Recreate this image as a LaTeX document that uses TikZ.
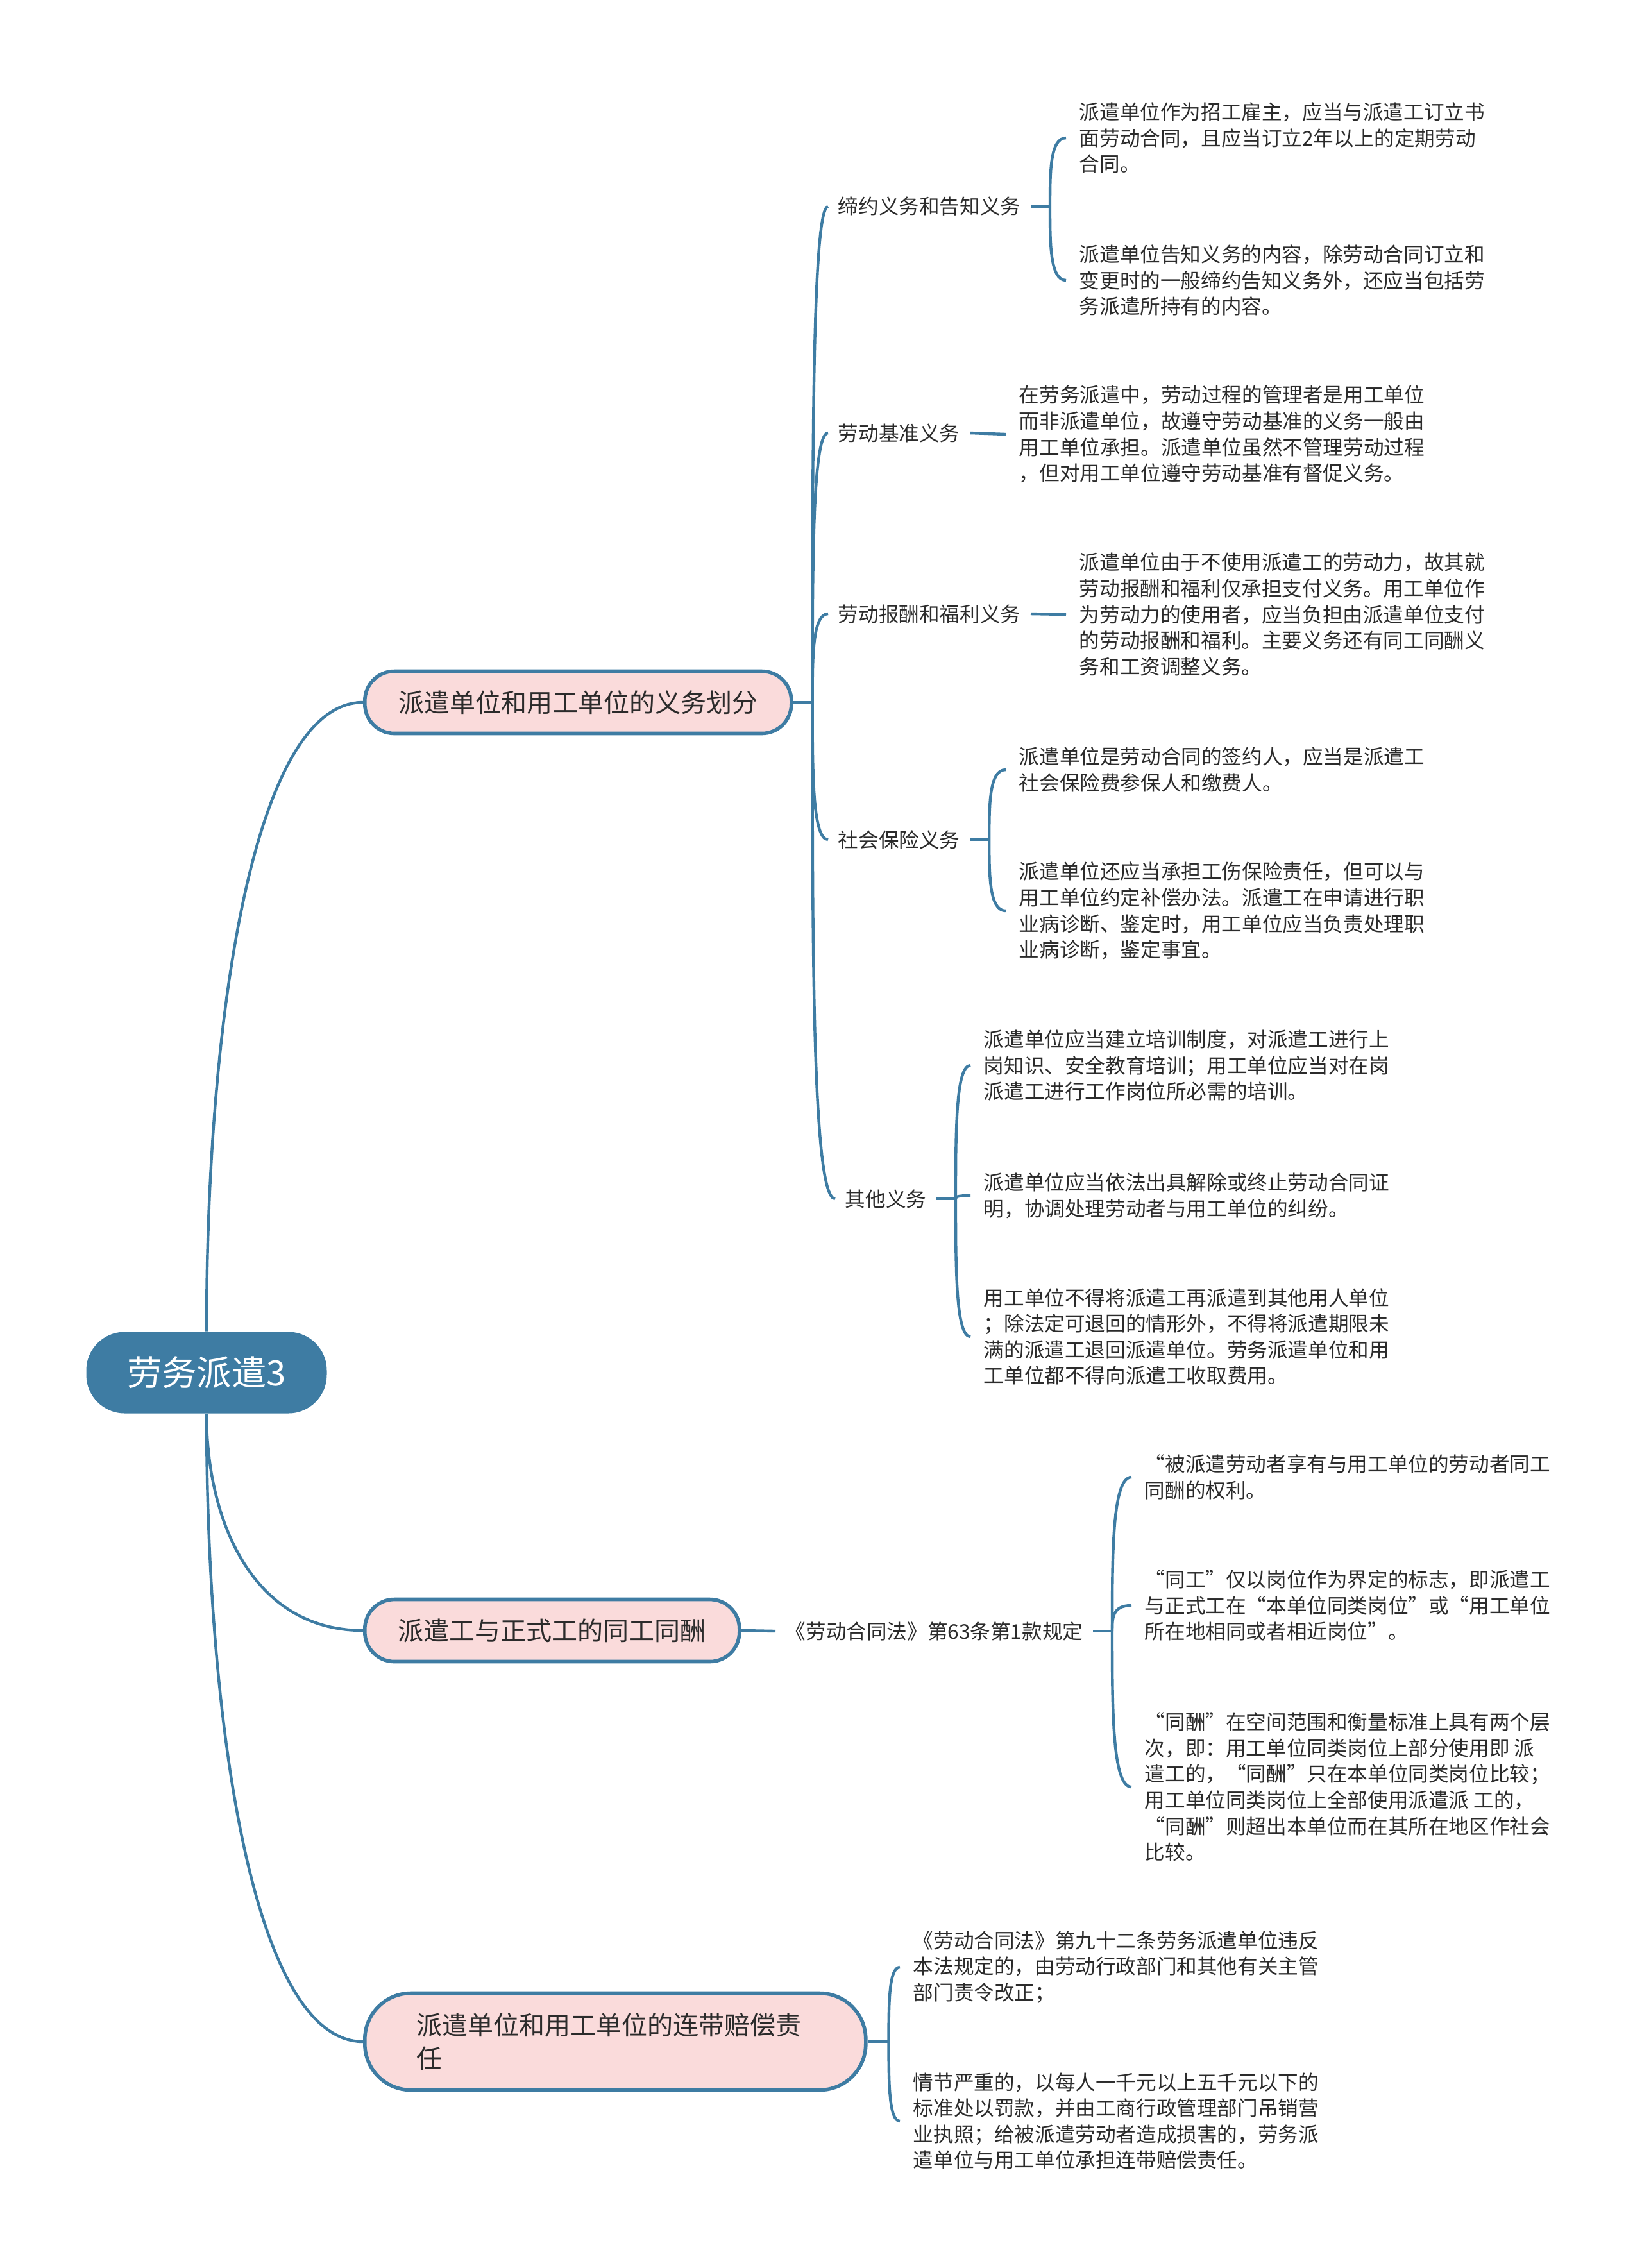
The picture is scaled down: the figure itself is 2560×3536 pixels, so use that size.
\documentclass[tikz,border=0pt]{standalone}
\usepackage{fontspec}
\setmainfont{Noto Sans CJK SC}
\usetikzlibrary{calc}
\definecolor{mmblue}{HTML}{3E7CA3}
\definecolor{mmpink}{HTML}{FADBDB}
\definecolor{mmtext}{HTML}{2B2B2B}
\begin{document}
\begin{tikzpicture}[x=0.25pt,y=-0.25pt,
  link/.style={draw=mmblue,line width=1.1pt},
  sweep/.style={to path={let \p1=(\tikztostart),\p2=(\tikztotarget) in
    .. controls (\x1,{0.5*(\y1+\y2)}) and ({\x1+0.3*(\x2-\x1)},\y2) .. (\tikztotarget)}},
  brace/.style={to path={let \p1=(\tikztostart),\p2=(\tikztotarget) in
    .. controls (\x1,{0.5*(\y1+\y2)}) and (\x1,\y2) .. (\tikztotarget)}},
  rootbox/.style={rectangle,rounded corners=15pt,fill=mmblue,text=white,font=\fontsize{13.6}{16}\selectfont,minimum width=93.75pt,minimum height=31.75pt,inner sep=0pt},
  topicbox/.style={rectangle,rounded corners=11.5pt,draw=mmblue,line width=1.4pt,fill=mmpink,text=mmtext,font=\fontsize{10}{13}\selectfont,anchor=west,inner xsep=13pt,minimum height=24.25pt},
  subbox/.style={anchor=west,inner xsep=3.75pt,inner ysep=1pt,text=mmtext,font=\fontsize{7.9}{10.15}\selectfont},
  leafbox/.style={anchor=west,align=left,inner xsep=5pt,inner ysep=1pt,text=mmtext,font=\fontsize{7.9}{10.15}\selectfont}]
  \useasboundingbox (0,0) rectangle (2560,3536);

  \node[rootbox] (root) at (322,2140) {劳务派遣3};
  \node[topicbox,minimum width=166.25pt] (duty) at (566,1095) {派遣单位和用工单位的义务划分};
  \node[topicbox,minimum width=146pt] (pay) at (566,2542) {派遣工与正式工的同工同酬};
  \node[topicbox,minimum width=195.25pt,minimum height=37.75pt,rounded corners=18pt,text width=155pt,align=left] (liab) at (566,3183) {派遣单位和用工单位的连带赔偿责\\任};

  \node[subbox] (sign) at (1291,322) {缔约义务和告知义务};
  \node[subbox] (std) at (1291,675) {劳动基准义务};
  \node[subbox] (wage) at (1291,957) {劳动报酬和福利义务};
  \node[subbox] (ins) at (1291,1309) {社会保险义务};
  \node[subbox] (other) at (1302,1869) {其他义务};
  \node[subbox] (law) at (1209,2543) {《劳动合同法》第63条第1款规定};

  \node[leafbox] (a1) at (1662,215) {派遣单位作为招工雇主，应当与派遣工订立书\\面劳动合同，且应当订立2年以上的定期劳动\\合同。};
  \node[leafbox] (a2) at (1662,437) {派遣单位告知义务的内容，除劳动合同订立和\\变更时的一般缔约告知义务外，还应当包括劳\\务派遣所持有的内容。};
  \node[leafbox] (b) at (1568,677) {在劳务派遣中，劳动过程的管理者是用工单位\\而非派遣单位，故遵守劳动基准的义务一般由\\用工单位承担。派遣单位虽然不管理劳动过程\\，但对用工单位遵守劳动基准有督促义务。};
  \node[leafbox] (c) at (1662,958) {派遣单位由于不使用派遣工的劳动力，故其就\\劳动报酬和福利仅承担支付义务。用工单位作\\为劳动力的使用者，应当负担由派遣单位支付\\的劳动报酬和福利。主要义务还有同工同酬义\\务和工资调整义务。};
  \node[leafbox] (d1) at (1568,1200) {派遣单位是劳动合同的签约人，应当是派遣工\\社会保险费参保人和缴费人。};
  \node[leafbox] (d2) at (1568,1420) {派遣单位还应当承担工伤保险责任，但可以与\\用工单位约定补偿办法。派遣工在申请进行职\\业病诊断、鉴定时，用工单位应当负责处理职\\业病诊断，鉴定事宜。};
  \node[leafbox] (e1) at (1513,1661) {派遣单位应当建立培训制度，对派遣工进行上\\岗知识、安全教育培训；用工单位应当对在岗\\派遣工进行工作岗位所必需的培训。};
  \node[leafbox] (e2) at (1513,1864) {派遣单位应当依法出具解除或终止劳动合同证\\明，协调处理劳动者与用工单位的纠纷。};
  \node[leafbox] (e3) at (1513,2084) {用工单位不得将派遣工再派遣到其他用人单位\\；除法定可退回的情形外，不得将派遣期限未\\满的派遣工退回派遣单位。劳务派遣单位和用\\工单位都不得向派遣工收取费用。};
  \node[leafbox] (f1) at (1764,2303) {“被派遣劳动者享有与用工单位的劳动者同工\\同酬的权利。};
  \node[leafbox] (f2) at (1764,2503) {“同工”仅以岗位作为界定的标志，即派遣工\\与正式工在“本单位同类岗位”或“用工单位\\所在地相同或者相近岗位”。};
  \node[leafbox] (f3) at (1764,2786) {“同酬”在空间范围和衡量标准上具有两个层\\次，即：用工单位同类岗位上部分使用即 派\\遣工的，“同酬”只在本单位同类岗位比较；\\用工单位同类岗位上全部使用派遣派 工的，\\“同酬”则超出本单位而在其所在地区作社会\\比较。};
  \node[leafbox] (g1) at (1403,3067) {《劳动合同法》第九十二条劳务派遣单位违反\\本法规定的，由劳动行政部门和其他有关主管\\部门责令改正；};
  \node[leafbox] (g2) at (1403,3307) {情节严重的，以每人一千元以上五千元以下的\\标准处以罚款，并由工商行政管理部门吊销营\\业执照；给被派遣劳动者造成损害的，劳务派\\遣单位与用工单位承担连带赔偿责任。};

  \draw[link] (root.north) to[sweep] (duty.west);
  \draw[link] (root.south) to[sweep] (pay.west);
  \draw[link] (root.south) to[sweep] (liab.west);

  \draw[link] (duty.east) -- ++(30,0) coordinate (duty0);
  \foreach \k in {sign,std,wage,ins,other} \draw[link] (duty0) to[brace] (\k.west);
  \draw[link] (sign.east) -- ++(30,0) coordinate (sign0);
  \foreach \k in {a1,a2} \draw[link] (sign0) to[brace] (\k.west);
  \draw[link] (std.east) -- (b.west);
  \draw[link] (wage.east) -- (c.west);
  \draw[link] (ins.east) -- ++(30,0) coordinate (ins0);
  \foreach \k in {d1,d2} \draw[link] (ins0) to[brace] (\k.west);
  \draw[link] (other.east) -- ++(30,0) coordinate (other0);
  \foreach \k in {e1,e2,e3} \draw[link] (other0) to[brace] (\k.west);

  \draw[link] (pay.east) -- (law.west);
  \draw[link] (law.east) -- ++(30,0) coordinate (law0);
  \foreach \k in {f1,f2,f3} \draw[link] (law0) to[brace] (\k.west);

  \draw[link] (liab.east) -- ++(33,0) coordinate (liab0);
  \foreach \k in {g1,g2} \draw[link] (liab0) to[brace] (\k.west);
\end{tikzpicture}
\end{document}
